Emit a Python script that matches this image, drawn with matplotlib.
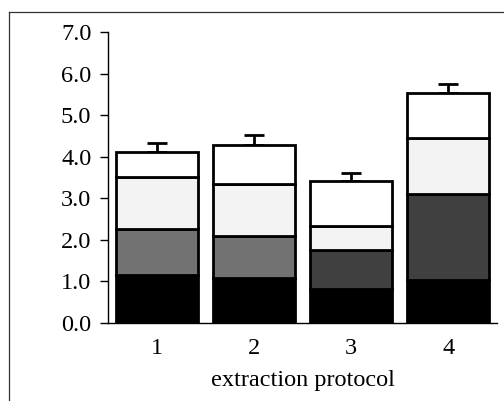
import numpy as np
import matplotlib
matplotlib.use("Agg")
import matplotlib.pyplot as plt
from matplotlib.lines import Line2D

plt.rcParams['font.family'] = ['Liberation Serif', 'DejaVu Serif']
plt.rcParams['font.size'] = 17.5

# stacked components per protocol, bottom to top
protocols = ['1', '2', '3', '4']
comp_a = [1.16, 1.08, 0.80, 1.03]
comp_b = [1.09, 1.02, 0.95, 2.07]
comp_c = [1.27, 1.23, 0.59, 1.36]
comp_d = [0.58, 0.95, 1.07, 1.07]
errors = [0.22, 0.23, 0.19, 0.21]

yticks = [0.0, 1.0, 2.0, 3.0, 4.0, 5.0, 6.0, 7.0]

colors_b = ['#727272', '#727272', '#404040', '#404040']

x = np.arange(1, len(protocols) + 1)
segments = [comp_a, comp_b, comp_c, comp_d]
facecolors = ['black', colors_b, '#f3f3f3', 'white']

fig = plt.figure(figsize=(5.04, 4.01), dpi=100)
ax = fig.add_axes([0.2143, 0.1953, 0.7717, 0.7247])

bottom = np.zeros(len(x))
for seg, fc in zip(segments, facecolors):
    ax.bar(x, seg, width=0.845, bottom=bottom, color=fc,
           edgecolor='black', linewidth=2.0, zorder=3)
    bottom = bottom + np.array(seg)

# upward-only error bars on the totals
ax.errorbar(x, bottom, yerr=[np.zeros(len(x)), errors], fmt='none',
            ecolor='black', elinewidth=2.0, capsize=7, capthick=2.0, zorder=2)

ax.set_xlim(0.5, 4.5)
ax.set_ylim(0, 7.0)
ax.set_yticks(yticks)
ax.set_yticklabels([f'{v:.1f}' for v in yticks])
ax.set_xticks(x)
ax.set_xticklabels(protocols)
ax.tick_params(axis='x', length=0, pad=11)
ax.tick_params(axis='y', length=6, width=1, direction='out', pad=6)
ax.set_xlabel('extraction protocol', labelpad=8)

for s in ['top', 'right']:
    ax.spines[s].set_visible(False)
ax.spines['left'].set_linewidth(1)
ax.spines['bottom'].set_linewidth(1)

# outer frame
fig.add_artist(Line2D([0.018, 0.018], [0.0, 0.970], transform=fig.transFigure,
                      color='#333333', linewidth=0.9))
fig.add_artist(Line2D([0.018, 1.0], [0.970, 0.970], transform=fig.transFigure,
                      color='#333333', linewidth=0.9))

fig.savefig('out.png', dpi=100)
